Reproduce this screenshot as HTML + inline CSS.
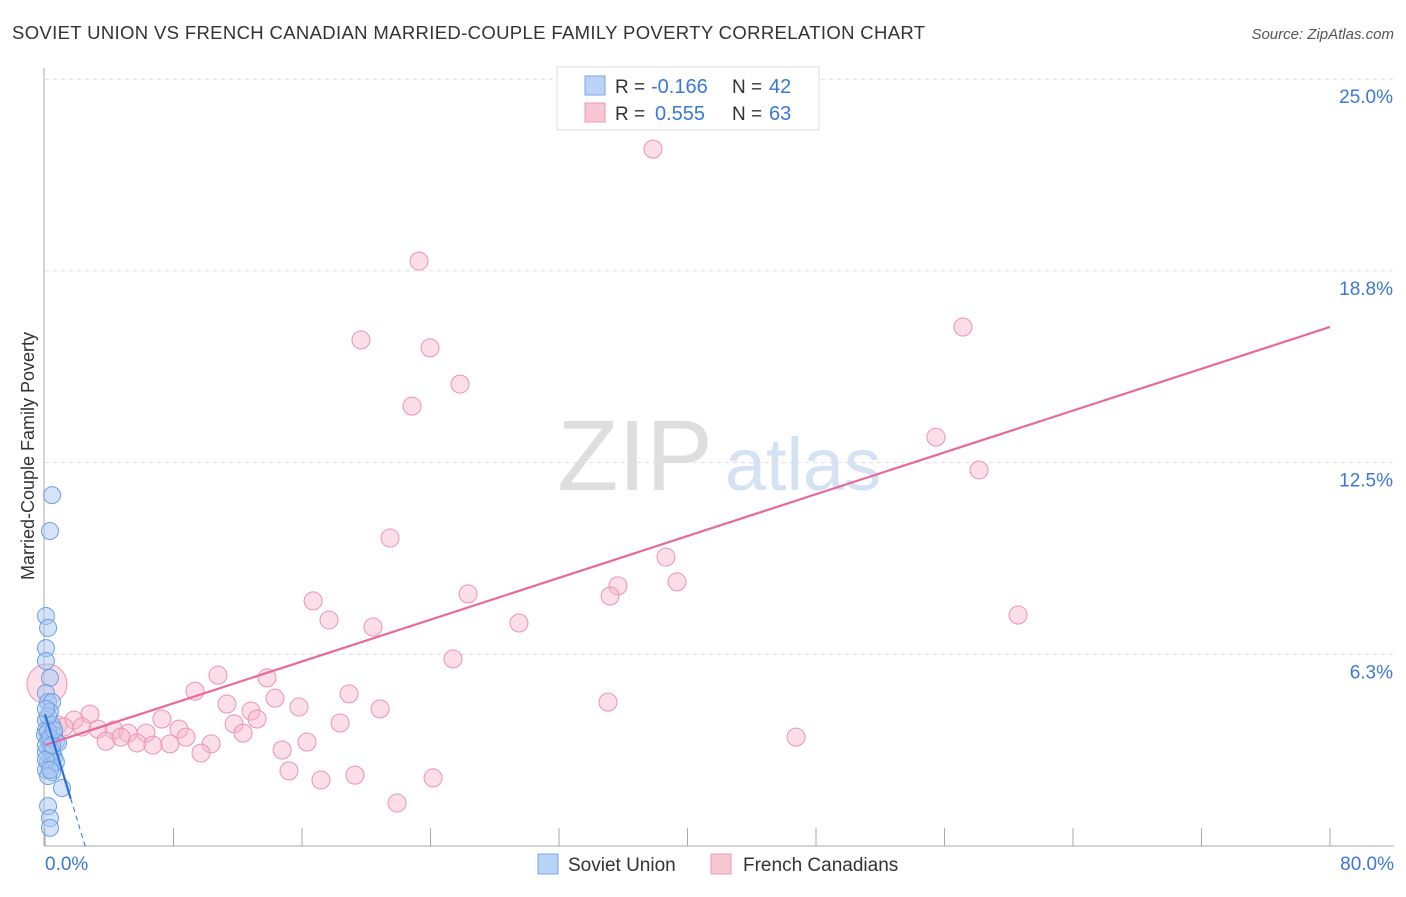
<!DOCTYPE html>
<html><head><meta charset="utf-8"><style>
body{margin:0;background:#fff;font-family:"Liberation Sans",sans-serif}
svg text{font-family:"Liberation Sans",sans-serif}
</style></head><body>
<svg id="chart" width="1406" height="892" xmlns="http://www.w3.org/2000/svg">
<text x="12" y="39" font-size="18.5" letter-spacing="0.35" fill="#333">SOVIET UNION VS FRENCH CANADIAN MARRIED-COUPLE FAMILY POVERTY CORRELATION CHART</text>
<text x="1394" y="39" font-size="15" fill="#555" text-anchor="end" font-style="italic">Source: ZipAtlas.com</text>
<text transform="translate(34,456) rotate(-90)" font-size="18" fill="#333" text-anchor="middle">Married-Couple Family Poverty</text>
<g><text x="635" y="490" font-size="100" font-family="Liberation Serif" fill="#dedede" text-anchor="middle">ZIP</text><text x="803" y="490" font-size="74" fill="#d4e2f4" text-anchor="middle">atlas</text></g>
<g id="grid"></g><g id="axes"></g><g id="marks"></g>
<g>
<rect x="557" y="67" width="262" height="63" fill="#fff" stroke="#ddd"/>
<rect x="585" y="76" width="20" height="19" fill="#b8d3f5" stroke="#7aa6e6"/>
<rect x="585" y="103" width="20" height="19" fill="#f9c6d4" stroke="#eb9ab2"/>
<text x="615" y="93" font-size="19" fill="#333">R =</text>
<text x="651" y="93" font-size="20" fill="#3a78d8">-0.166</text>
<text x="732" y="93" font-size="19" fill="#333">N =</text>
<text x="769" y="93" font-size="20" fill="#3a78d8">42</text>
<text x="615" y="120" font-size="19" fill="#333">R =</text>
<text x="655" y="120" font-size="20" fill="#3a78d8">0.555</text>
<text x="732" y="120" font-size="19" fill="#333">N =</text>
<text x="769" y="120" font-size="20" fill="#3a78d8">63</text>
</g>
<g>
<rect x="538" y="854" width="20" height="20" fill="#b8d3f5" stroke="#7aa6e6"/>
<text x="568" y="871" font-size="19" fill="#333">Soviet Union</text>
<rect x="711" y="854" width="20" height="20" fill="#f9c6d4" stroke="#eb9ab2"/>
<text x="743" y="871" font-size="19" fill="#333">French Canadians</text>
</g>
</svg>
<script>
const yTicks=[6.25,12.5,18.75,25];
const yTickLabels=["6.3%","12.5%","18.8%","25.0%"];
const xTickLabels=["0.0%","80.0%"];
const frX=[37.85,23.29,19.67,23.97,25.84,22.85,57.15,55.47,58.15,21.48,38.66,39.35,35.67,35.18,26.34,16.69,17.68,20.42,29.51,60.58,25.40,10.77,13.82,9.34,14.32,18.93,35.05,11.33,15.81,20.86,12.83,7.28,13.20,11.77,2.80,1.81,0.81,2.30,3.30,4.30,5.17,6.29,8.34,12.33,18.37,8.78,3.80,5.73,6.72,7.78,10.34,16.31,4.73,46.76,14.76,9.71,15.19,19.30,17.18,24.16,21.92,0.12,1.18];
const frY=[22.72,19.07,16.50,16.24,15.06,14.34,16.92,13.33,12.26,10.04,9.42,8.61,8.48,8.15,8.22,7.99,7.37,7.14,7.27,7.53,6.10,5.57,5.48,5.05,4.82,4.96,4.69,4.63,4.53,4.47,4.40,4.14,4.14,3.98,4.30,4.11,3.94,3.88,3.81,3.78,3.68,3.68,3.81,3.68,4.01,3.55,3.42,3.36,3.29,3.33,3.33,3.39,3.55,3.55,3.13,3.03,2.45,2.31,2.15,2.22,1.40,5.28,3.88];
const suX=[0.44,0.31,0.06,0.19,0.06,0.06,0.31,0.06,0.19,0.44,0.31,0.06,0.44,0.06,0.56,0.19,0.68,0.31,0.06,0.56,0.19,0.31,0.06,0.44,0.19,1.06,0.19,0.31,0.31,0.81,0.0,0.06,0.44,0.68,0.19,0.31,0.06,0.44,0.56,0.19,0.06,0.31];
const suY=[11.44,10.27,7.50,7.11,6.45,6.03,5.48,4.99,4.69,4.69,4.37,4.11,3.94,3.78,3.62,3.46,3.39,3.19,3.06,2.90,2.74,2.61,2.48,2.41,2.28,1.89,1.30,0.91,0.59,3.36,3.62,3.29,3.06,2.74,3.75,3.52,2.81,3.29,3.78,4.24,4.47,2.48];
const frLine=[3.29,0.1704];
const suLine=[4.30,-1.72];
const X=v=>45+v*1285/80, Y=v=>846-v*191.7/6.25;
const NS="http://www.w3.org/2000/svg";
function mk(p,t,a){const e=document.createElementNS(NS,t);for(const k in a)e.setAttribute(k,a[k]);document.getElementById(p).appendChild(e);return e;}
yTicks.forEach((t,i)=>{
 const g=mk("grid","line",{x1:45,x2:1394,y1:Y(t),y2:Y(t),stroke:"#ddd","stroke-dasharray":"4,4"});
 
 
 const l=mk("axes","text",{x:1393,y:Y(t)+24,"font-size":19,fill:"#3a78d8","text-anchor":"end"});l.textContent=yTickLabels[i];
 
 
});
const ax=mk("axes","line",{x1:44,x2:44,y1:68,y2:846,stroke:"#aaa"});


const bx=mk("axes","line",{x1:44,x2:1394,y1:846,y2:846,stroke:"#aaa"});


for(let i=0;i<=10;i++){const t=mk("axes","line",{x1:X(i*8),x2:X(i*8),y1:828,y2:846,stroke:"#aaa"});
 
 }
[[0,"start",45],[80,"end",1394]].forEach((d,i)=>{const l=mk("axes","text",{x:d[2],y:870,"font-size":19,fill:"#3a78d8","text-anchor":d[1]});l.textContent=xTickLabels[i];
 
 });
frX.forEach((x,i)=>{const c=mk("marks","circle",{cx:X(x),cy:Y(frY[i]),r:i==61?20:9,fill:"#f7b6c9","fill-opacity":0.45,stroke:"#eb94ae","stroke-width":1});
 
 });
suX.forEach((x,i)=>{const c=mk("marks","circle",{cx:X(x),cy:Y(suY[i]),r:8.5,fill:"#a9c8f2","fill-opacity":0.5,stroke:"#6e9fe4","stroke-width":1});
 
 });
const fl=mk("marks","line",{x1:X(0),y1:Y(frLine[0]),x2:X(80),y2:Y(frLine[0]+80*frLine[1]),stroke:"#e8699a","stroke-width":2.2});


const sl=mk("marks","line",{x1:X(0),y1:Y(suLine[0]),x2:X(1.6),y2:Y(suLine[0]+1.6*suLine[1]),stroke:"#2a6fd6","stroke-width":2.2});


const xe=-suLine[0]/suLine[1];
const sd=mk("marks","line",{x1:X(1.6),y1:Y(suLine[0]+1.6*suLine[1]),x2:X(xe),y2:Y(0),stroke:"#2a6fd6","stroke-width":1,"stroke-dasharray":"5,4"});


</script>
</body></html>
